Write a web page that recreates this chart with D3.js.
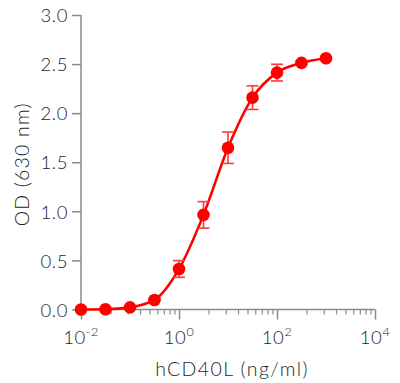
<!DOCTYPE html>
<html>
<head>
<meta charset="utf-8">
<script src="https://cdn.jsdelivr.net/npm/d3@7"></script>
<style>
  html, body { margin: 0; padding: 0; background: #fff; }
  svg { display: block; }
  text { font-family: Lato, "Open Sans", sans-serif; font-weight: 300; fill: #1e1e1e; }
</style>
</head>
<body>
<svg id="chart" width="400" height="383"></svg>
<script>
// ---- data ----
const concentrations = [0.01, 0.0316, 0.1, 0.316, 1, 3.16, 10, 31.6, 100, 316, 1000];
const odValues       = [0.0, 0.002, 0.022, 0.097, 0.413, 0.964, 1.648, 2.158, 2.413, 2.512, 2.559];
const odErrors       = [0, 0, 0, 0.01, 0.085, 0.135, 0.16, 0.12, 0.085, 0.02, 0.01];
const xMajorTicks    = [0.01, 1, 100, 10000];
const xMajorExps     = ["-2", "0", "2", "4"];
const xMinorTicks    = [0.04, 0.09, 0.16, 0.25, 0.36, 0.49, 0.64, 0.81,
                        4, 9, 16, 25, 36, 49, 64, 81,
                        400, 900, 1600, 2500, 3600, 4900, 6400, 8100];
const yTicks         = [0, 0.5, 1.0, 1.5, 2.0, 2.5, 3.0];
const xTitle = "hCD40L (ng/ml)";
const yTitle = "OD (630 nm)";

(function () {
// ---- layout ----
const svg = d3.select("#chart");
const mLeft = 81, mRight = 375, mTop = 15, mBottom = 309.5;
const red = "#ff0000";
const axisColor = "#8a8a8a";
const textColor = "#1e1e1e";

const x = d3.scaleLog().domain([0.01, 10000]).range([mLeft, mRight]);
const y = d3.scaleLinear().domain([0, 3]).range([mBottom, mTop]);

// y axis
const yAxis = svg.append("g").attr("transform", `translate(${mLeft},0)`)
  .call(d3.axisLeft(y).tickValues(yTicks).tickFormat(d3.format(".1f")).tickSize(9).tickPadding(4));
yAxis.select(".domain").attr("stroke", axisColor).attr("stroke-width", 1.5).attr("d", `M0,${mTop}V${mBottom}`);
yAxis.selectAll(".tick line").attr("stroke", axisColor).attr("stroke-width", 1.5);
yAxis.selectAll(".tick text").attr("font-size", 18.5).attr("fill", textColor)
  .attr("font-family", "Lato").attr("font-weight", 300)
  .attr("letter-spacing", 0.6).attr("dy", "0.36em");

// x axis - minor ticks
const xg = svg.append("g").attr("transform", `translate(0,${mBottom})`);
xg.append("g").call(d3.axisBottom(x).tickValues(xMinorTicks).tickSize(5).tickFormat(""))
  .call(g => g.select(".domain").remove())
  .selectAll(".tick line").attr("stroke", axisColor).attr("stroke-width", 1.2);
const xMaj = xg.append("g").call(d3.axisBottom(x).tickValues(xMajorTicks).tickSize(10).tickFormat(""));
xMaj.select(".domain").attr("stroke", axisColor).attr("stroke-width", 1.5).attr("d", `M${mLeft},0H${mRight}`);
xMaj.selectAll(".tick line").attr("stroke", axisColor).attr("stroke-width", 1.5);

// x tick labels with superscripts
xMajorTicks.forEach((v, i) => {
  const t = svg.append("text")
    .attr("x", x(v)).attr("y", 344)
    .attr("text-anchor", "middle")
    .attr("font-size", 18.5).attr("letter-spacing", 0.6);
  t.append("tspan").text("10");
  t.append("tspan").attr("dy", -8).attr("font-size", 12.5).text(xMajorExps[i]);
});

// axis titles
svg.append("text").attr("x", (mLeft + mRight) / 2 + 4).attr("y", 376)
  .attr("text-anchor", "middle").attr("font-size", 19.5).attr("letter-spacing", 1.4)
  .text(xTitle);
svg.append("text")
  .attr("transform", `translate(29,${(mTop + mBottom) / 2 + 2}) rotate(-90)`)
  .attr("text-anchor", "middle").attr("font-size", 19.5).attr("letter-spacing", 1.2)
  .text(yTitle);

// data
const pts = concentrations.map((c, i) => ({c, v: odValues[i], e: odErrors[i]}));

// curve
svg.append("path").datum(pts)
  .attr("fill", "none").attr("stroke", red).attr("stroke-width", 2.6)
  .attr("d", d3.line().x(d => x(d.c)).y(d => y(d.v)).curve(d3.curveMonotoneX));

// error bars
const eb = svg.append("g").attr("stroke", "#ff3a3a").attr("stroke-width", 1.6).attr("fill", "none");
pts.filter(d => d.e > 0).forEach(d => {
  const cx = x(d.c), y1 = y(d.v + d.e), y2 = y(d.v - d.e);
  eb.append("line").attr("x1", cx).attr("x2", cx).attr("y1", y1).attr("y2", y2);
  eb.append("line").attr("x1", cx - 6).attr("x2", cx + 6).attr("y1", y1).attr("y2", y1);
  eb.append("line").attr("x1", cx - 6).attr("x2", cx + 6).attr("y1", y2).attr("y2", y2);
});

// points
svg.append("g").selectAll("circle").data(pts).join("circle")
  .attr("cx", d => x(d.c)).attr("cy", d => y(d.v)).attr("r", 6.3)
  .attr("fill", red);
})();
</script>
</body>
</html>
